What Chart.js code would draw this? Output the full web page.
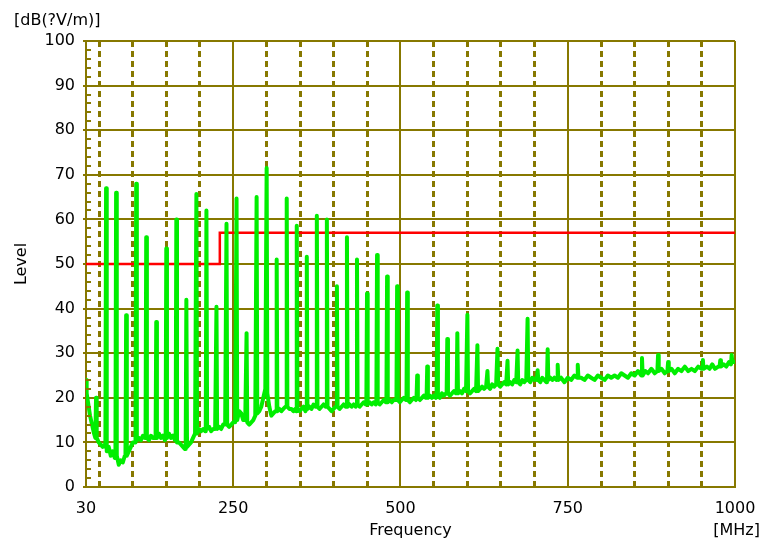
<!DOCTYPE html>
<html>
<head>
<meta charset="utf-8">
<script src="https://cdn.jsdelivr.net/npm/chart.js@4.4.1/dist/chart.umd.min.js"></script>
<style>
  html, body { margin: 0; padding: 0; background: #fff; }
</style>
</head>
<body>
<canvas id="grafico" width="763" height="546"></canvas>
<script>
// emission trace (frequency in MHz, level in dB)
const emissionMHz = [
  30, 31, 33, 36, 39, 42, 44, 45,
  46, 49, 52, 55, 58, 59, 60,
  61, 64, 67, 70, 73, 74, 75,
  76, 79, 82, 85, 88, 89, 90,
  91, 94, 97, 100, 103, 104, 105,
  106, 109, 112, 115, 118, 119, 120,
  121, 124, 127, 130, 133, 134, 135,
  136, 139, 142, 145, 148, 149, 150,
  151, 154, 157, 160, 163, 164, 165,
  166, 169, 172, 175, 178, 179, 180,
  181, 184, 187, 190, 193, 194, 195,
  196, 199, 202, 205, 208, 209, 210,
  211, 214, 217, 220, 223, 224, 225,
  226, 229, 232, 235, 238, 239, 240,
  241, 244, 247, 250, 253, 254, 255,
  256, 259, 262, 265, 268, 269, 270,
  271, 274, 277, 280, 283, 284, 285,
  286, 289, 292, 295, 298, 299, 300,
  301, 304, 307, 310, 313, 314, 315,
  316, 319, 322, 325, 328, 329, 330,
  331, 334, 337, 340, 343, 344, 345,
  346, 349, 352, 355, 358, 359, 360,
  361, 364, 367, 370, 373, 374, 375,
  376, 379, 382, 385, 388, 389, 390,
  391, 394, 397, 400, 403, 404, 405,
  406, 409, 412, 415, 418, 419, 420,
  421, 424, 427, 430, 433, 434, 435,
  436, 439, 442, 445, 448, 449, 450,
  451, 454, 457, 460, 463, 464, 465,
  466, 469, 472, 475, 478, 479, 480,
  481, 484, 487, 490, 493, 494, 495,
  496, 499, 502, 505, 508, 509, 510,
  511, 514, 517, 520, 523, 524, 525,
  526, 529, 532, 535, 538, 539, 540,
  541, 544, 547, 550, 553, 554, 555,
  556, 559, 562, 565, 568, 569, 570,
  571, 574, 577, 580, 583, 584, 585,
  586, 589, 592, 595, 598, 599, 600,
  601, 604, 607, 610, 613, 614, 615,
  616, 619, 622, 625, 628, 629, 630,
  631, 634, 637, 640, 643, 644, 645,
  646, 649, 652, 655, 658, 659, 660,
  661, 664, 667, 670, 673, 674, 675,
  676, 679, 682, 685, 688, 689, 690,
  691, 694, 697, 700, 703, 704, 705,
  706, 709, 712, 715, 718, 719, 720,
  721, 724, 727, 730, 733, 734, 735,
  736, 740, 745, 750, 755, 760, 764, 765, 766, 770, 775, 780,
  785, 790, 795, 800, 805, 810, 815, 820, 825, 830,
  835, 840, 845, 850, 855, 860, 861, 862, 866, 870,
  875, 880, 884, 885, 886, 890, 895, 899, 900, 901,
  905, 910, 915, 920, 925, 930, 935, 940, 945, 950,
  951, 952, 953, 958, 962, 966, 970, 975, 977, 978,
  979, 983, 987, 991, 994, 995, 996, 1000
];
const emissionDb = [
  24, 21, 19, 16, 14, 12, 11, 20,
  11, 10, 9.5, 9, 9.5, 9, 67,
  8, 9, 7, 8, 6.5, 7, 66,
  7, 5, 6, 5.5, 7, 7, 38.5,
  7, 8, 9, 10, 10, 10, 68,
  10.5, 11, 10.5, 11.5, 11, 11, 56,
  11, 10.5, 11.5, 11, 11, 11, 37,
  11, 12, 11, 11.5, 10.5, 11, 53.5,
  11, 12, 11, 11.5, 10.5, 10.5, 60,
  10, 10, 9.5, 9, 8.5, 9, 42,
  9, 9.5, 10, 11, 12, 12, 65.7,
  12, 13, 12.5, 13, 12.5, 13, 62,
  13, 13.5, 12.5, 13, 13, 13, 40.4,
  13, 13.5, 13, 14, 14, 14, 59,
  14, 13.5, 14, 14.5, 14.5, 14.5, 64.7,
  15, 17, 16.5, 15, 15, 15, 34.5,
  14.5, 14, 14.5, 15, 16, 16, 65,
  16.5, 17, 18, 20, 22, 22, 71.5,
  21, 18, 16, 16.5, 17, 17, 51,
  17, 17.5, 17, 17.5, 18, 18, 64.7,
  18, 17.5, 17.5, 17, 17.5, 17, 58.6,
  17.5, 17, 17.5, 18, 17, 17.5, 51.6,
  17.5, 18, 17.5, 18.5, 18, 18, 60.8,
  18, 17.5, 18, 18.5, 18, 18, 60,
  18, 17.5, 17, 17.5, 18, 18, 45,
  18, 17.5, 18, 18.5, 18, 18, 56,
  18, 18.5, 18, 18.5, 18, 18.5, 51,
  18.5, 18, 18.5, 19, 18.5, 18.5, 43.4,
  18.5, 19, 18.5, 19, 18.5, 19, 52,
  19, 18.5, 19, 19.5, 19, 19, 47.2,
  19, 19.5, 19, 19.5, 19.5, 19.5, 45,
  19.5, 19, 19.5, 20, 19.5, 19.5, 43.6,
  19.5, 19, 19.5, 20, 19.5, 20, 25,
  20, 19.5, 20, 20.5, 20, 20, 27,
  20, 20.5, 20, 20.5, 20, 20.5, 40.7,
  20.5, 20, 21, 20.5, 21, 21, 33.2,
  21, 20.5, 21, 21.5, 21, 21, 34.5,
  21, 21.5, 21, 22, 21.5, 21.5, 38.6,
  21.5, 21, 21.5, 22, 21.5, 21.5, 31.8,
  21.5, 22, 22.5, 22, 22.5, 22.5, 26,
  22.5, 22, 23, 22.5, 23, 23, 31,
  23, 22.5, 23, 23.5, 23, 23, 28.3,
  23, 23.5, 23, 24, 23.5, 23.5, 30.6,
  23.5, 23, 24, 23.5, 24, 24, 37.7,
  24, 23.5, 24.5, 24, 24.5, 24, 26.2,
  24, 23.5, 24.5, 24, 23.5, 24, 30.9,
  24, 24.5, 24, 24.5, 24, 24.5, 27.4,
  24, 24.5, 23.5, 24.5, 24, 25, 24.5, 27.4, 24.5, 24.5, 24, 25,
  24.5, 24, 25, 24.5, 24, 25, 24.5, 25, 24.5, 25.5,
  25, 24.5, 25.5, 25, 26, 25, 28.9, 25, 26, 25.5,
  26.5, 25.5, 26, 29.6, 26, 26.5, 25.5, 26, 28, 26,
  26.5, 25.5, 26.5, 26, 27, 26, 26.5, 26, 27, 26.5,
  26.5, 28.5, 26.5, 27, 26.5, 27.5, 26.5, 27, 27, 28.4,
  27, 27.5, 27, 28, 27.5, 29.6, 28, 28
];

// limit line (step at 230 MHz)
const limitMHz = [30, 230, 230, 1000];
const limitDb = [50, 50, 57, 57];

const xTickLabels = [30, 250, 500, 750, 1000];
const xGridStep = 50;
const xMajorStep = 250;
const yUnit = '[dB(?V/m)]';
const xUnit = '[MHz]';

const OLIVE = '#877800';
const FONT = '"DejaVu Sans", sans-serif';

const gridMHz = [30];
for (let f = xGridStep; f <= 1000; f += xGridStep) gridMHz.push(f);

const isMajor = (c) => !c.tick || c.tick.value % xMajorStep === 0 || c.tick.value === 30;

// minor ticks on the left axis + unit labels
const extras = {
    id: 'extras',
    afterDraw(chart) {
        const { ctx, chartArea, scales } = chart;
        ctx.save();
        ctx.strokeStyle = OLIVE;
        ctx.lineWidth = 2;
        for (let v = 2; v < 100; v += 2) {
            if (v % 10 === 0) continue;
            const py = Math.round(scales.y.getPixelForValue(v));
            ctx.beginPath();
            ctx.moveTo(chartArea.left, py);
            ctx.lineTo(chartArea.left + 5, py);
            ctx.stroke();
        }
        ctx.fillStyle = '#000';
        ctx.font = '16px ' + FONT;
        ctx.textBaseline = 'middle';
        ctx.textAlign = 'left';
        ctx.fillText(yUnit, 14, 21);
        ctx.textAlign = 'right';
        ctx.fillText(xUnit, 760, 531);
        ctx.restore();
    }
};

const ctx = document.getElementById('grafico').getContext('2d');

new Chart(ctx, {
    type: 'line',
    data: {
        datasets: [{
            label: 'Level',
            data: emissionMHz.map((f, i) => ({ x: f, y: emissionDb[i] })),
            borderColor: '#00ee00',
            borderWidth: 4,
            borderJoinStyle: 'round',
            pointRadius: 0,
            tension: 0
        }, {
            label: 'Limit',
            data: limitMHz.map((f, i) => ({ x: f, y: limitDb[i] })),
            borderColor: '#ff0000',
            borderWidth: 2.5,
            pointRadius: 0,
            tension: 0
        }]
    },
    options: {
        responsive: false,
        animation: false,
        layout: { padding: { top: 41, right: 28, bottom: 0, left: 0 } },
        plugins: {
            legend: { display: false },
            tooltip: { enabled: false }
        },
        scales: {
            x: {
                type: 'linear',
                min: 30,
                max: 1000,
                afterBuildTicks: (s) => { s.ticks = gridMHz.map(v => ({ value: v })); },
                afterFit: (s) => { s.height = 59; s.paddingLeft = 0; s.paddingRight = 0; },
                grid: {
                    color: OLIVE,
                    lineWidth: (c) => isMajor(c) ? 2 : 3,
                    drawTicks: false
                },
                border: {
                    color: OLIVE,
                    width: 2,
                    dash: (c) => isMajor(c) ? [] : [6, 4]
                },
                ticks: {
                    autoSkip: false,
                    maxRotation: 0,
                    padding: 12,
                    color: '#000',
                    font: { family: FONT, size: 16 },
                    callback: (v) => xTickLabels.includes(v) ? String(v) : ''
                },
                title: {
                    display: true,
                    text: 'Frequency',
                    color: '#000',
                    font: { family: FONT, size: 16 },
                    padding: { top: 0, bottom: 6 }
                }
            },
            y: {
                min: 0,
                max: 100,
                afterFit: (s) => { s.width = 86; s.paddingTop = 0; s.paddingBottom = 0; },
                grid: { color: OLIVE, lineWidth: 2, tickLength: 3 },
                border: { color: OLIVE, width: 2 },
                ticks: {
                    stepSize: 10,
                    padding: 8,
                    color: '#000',
                    font: { family: FONT, size: 16 }
                },
                title: {
                    display: true,
                    text: 'Level',
                    color: '#000',
                    font: { family: FONT, size: 16 },
                    padding: { top: 12, bottom: 0 }
                }
            }
        }
    },
    plugins: [extras]
});
</script>
</body>
</html>
